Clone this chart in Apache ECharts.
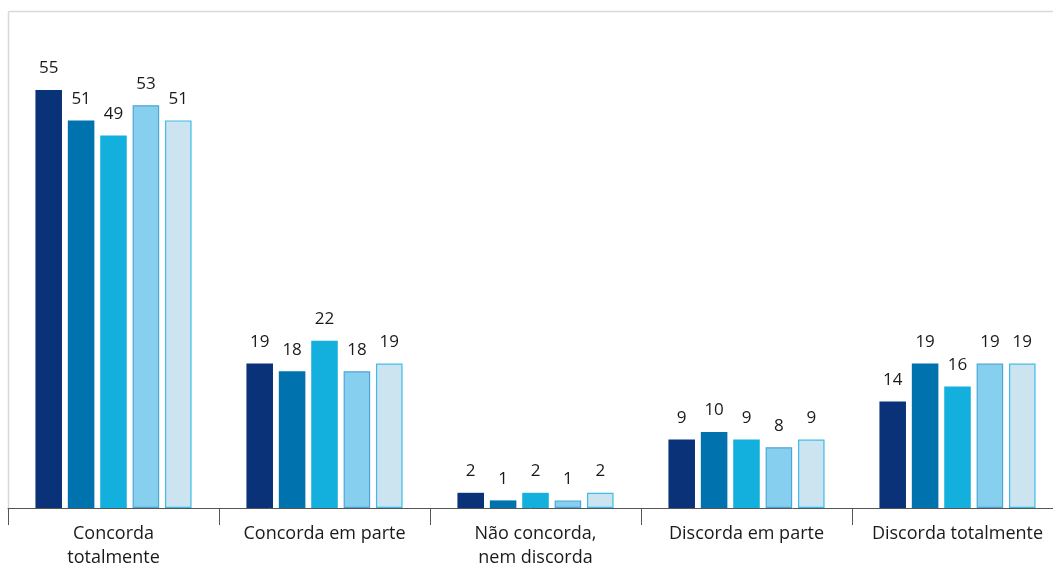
<!DOCTYPE html>
<html>
<head>
<meta charset="utf-8">
<style>
  html, body { margin: 0; padding: 0; background: #fff; }
  #chart { width: 1053px; height: 565px; }
</style>
<script src="https://cdn.jsdelivr.net/npm/echarts@6/dist/echarts.min.js"></script>
</head>
<body>
<div id="chart"></div>
<script>
const categories = ['Concorda\ntotalmente', 'Concorda em parte', 'Não concorda,\nnem discorda', 'Discorda em parte', 'Discorda totalmente'];
const serie1 = [55, 19, 2, 9, 14];
const serie2 = [51, 18, 1, 10, 19];
const serie3 = [49, 22, 2, 9, 16];
const serie4 = [53, 18, 1, 8, 19];
const serie5 = [51, 19, 2, 9, 19];

const colors = ['#0a3278', '#0072ad', '#14b0dd', '#86cfee', '#cbe4f0'];
const borders = [null, null, null, '#4fa6d6', '#3dbde8'];
const seriesData = [serie1, serie2, serie3, serie4, serie5];

const chart = echarts.init(document.getElementById('chart'));
chart.setOption({
  animation: false,
  backgroundColor: '#fff',
  textStyle: { fontFamily: '"Open Sans", "Noto Sans", sans-serif' },
  graphic: [
    { type: 'line', shape: { x1: 8.5, y1: 11.5, x2: 1053, y2: 11.5 }, style: { stroke: '#d9d9d9', lineWidth: 1.5 }, silent: true },
    { type: 'line', shape: { x1: 8.5, y1: 11.5, x2: 8.5, y2: 508 }, style: { stroke: '#d9d9d9', lineWidth: 1.5 }, silent: true }
  ],
  grid: { left: 8, right: -10, top: 52, bottom: 57, containLabel: false, outerBoundsMode: 'none' },
  xAxis: {
    type: 'category',
    data: categories,
    axisLine: { show: true, lineStyle: { color: '#555', width: 1 } },
    axisTick: { show: true, length: 17, alignWithLabel: false, lineStyle: { color: '#555' } },
    axisLabel: { color: '#1a1a1a', fontSize: 18, lineHeight: 24, margin: 14, interval: 0 }
  },
  yAxis: { type: 'value', min: 0, max: 60, show: false, splitLine: { show: false } },
  series: seriesData.map((d, i) => ({
    type: 'bar',
    data: d,
    barGap: '22%',
    barCategoryGap: '26%',
    itemStyle: {
      color: colors[i],
      borderColor: borders[i] || colors[i],
      borderWidth: borders[i] ? 1.2 : 0
    },
    label: { show: true, position: 'top', distance: 13, color: '#1a1a1a', fontSize: 17 }
  }))
});
</script>
</body>
</html>
